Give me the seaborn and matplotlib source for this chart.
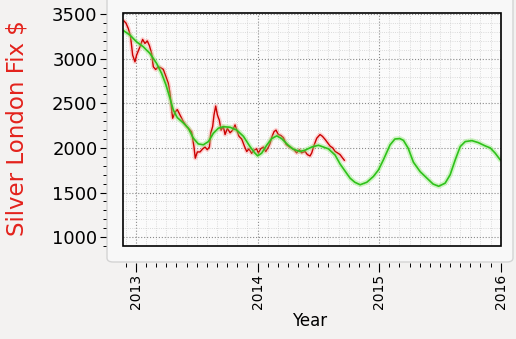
# Silver London Fix with smoothed trend / projection
import seaborn as sns
import matplotlib.pyplot as plt
import matplotlib.ticker as mticker
from matplotlib.patches import FancyBboxPatch, Rectangle
import pandas as pd

# daily fix (cents)
fix_years = [2012.901, 2012.918, 2012.937, 2012.956, 2012.973, 2012.992,
             2013.005, 2013.033, 2013.055, 2013.074, 2013.093, 2013.110, 2013.129, 2013.143, 2013.162, 2013.184,
             2013.203, 2013.225, 2013.247, 2013.266, 2013.280, 2013.294, 2013.302, 2013.321, 2013.340, 2013.362,
             2013.390, 2013.417, 2013.444, 2013.458, 2013.477, 2013.488, 2013.505, 2013.527, 2013.549, 2013.568,
             2013.587, 2013.604, 2013.615, 2013.631, 2013.642, 2013.656, 2013.670, 2013.686, 2013.700, 2013.719,
             2013.733, 2013.752, 2013.774, 2013.796, 2013.815, 2013.829, 2013.848, 2013.870, 2013.892, 2013.911,
             2013.930, 2013.952, 2013.971, 2013.993, 2014.007, 2014.026, 2014.048, 2014.067, 2014.089, 2014.103,
             2014.117, 2014.136, 2014.152, 2014.171, 2014.191, 2014.213, 2014.235, 2014.254, 2014.276, 2014.300,
             2014.322, 2014.344, 2014.363, 2014.391, 2014.410, 2014.432, 2014.446, 2014.465, 2014.487, 2014.514,
             2014.534, 2014.556, 2014.575, 2014.597, 2014.619, 2014.638, 2014.657, 2014.679, 2014.698, 2014.715]
fix_values = [3425, 3400, 3340, 3246, 3041, 2966,
              3040, 3134, 3217, 3172, 3200, 3150, 3060, 2910, 2880, 2910,
              2900, 2880, 2798, 2725, 2613, 2426, 2333, 2400, 2430, 2370,
              2295, 2240, 2202, 2180, 2015, 1885, 1955, 1955, 1990, 2010,
              1980, 2010, 2165, 2240, 2370, 2470, 2370, 2310, 2200, 2240,
              2150, 2220, 2170, 2200, 2258, 2200, 2130, 2100, 2020, 1960,
              1990, 1940, 1975, 1990, 1940, 1990, 2010, 1960, 2010, 2050,
              2120, 2183, 2200, 2150, 2140, 2115, 2040, 2020, 2000, 1980,
              1945, 1980, 1945, 1960, 1925, 1910, 1945, 2030, 2109, 2150,
              2130, 2095, 2060, 2020, 2000, 1960, 1945, 1925, 1890, 1860]

# smoothed trend and its projection to 2016
trend_years = [2012.901, 2012.951,
               2013.005, 2013.060, 2013.115, 2013.170, 2013.211, 2013.247, 2013.280, 2013.307, 2013.340, 2013.390,
               2013.431, 2013.472, 2013.513, 2013.554, 2013.596, 2013.637, 2013.678, 2013.719, 2013.774, 2013.829,
               2013.884, 2013.938, 2013.979, 2014.001, 2014.034, 2014.075, 2014.117, 2014.158, 2014.198, 2014.253,
               2014.294, 2014.349, 2014.391, 2014.446, 2014.501, 2014.542,
               2014.583, 2014.638, 2014.679, 2014.720, 2014.761, 2014.800, 2014.844, 2014.899, 2014.953, 2014.995,
               2015.035, 2015.090, 2015.130, 2015.170, 2015.200, 2015.239, 2015.282, 2015.337, 2015.393, 2015.444,
               2015.490, 2015.543, 2015.584, 2015.626, 2015.667, 2015.708, 2015.763, 2015.815, 2015.872, 2015.914,
               2015.955, 2015.996]
trend_values = [3313, 3265,
                3190, 3135, 3060, 2948, 2836, 2706, 2557, 2426, 2340, 2280,
                2221, 2109, 2045, 2035, 2071, 2165, 2221, 2238, 2232, 2200,
                2130, 2015, 1941, 1911, 1941, 2030, 2105, 2135, 2105, 2030,
                1986, 1960, 1975, 2010, 2030, 2010,
                1990, 1920, 1820, 1740, 1661, 1615, 1587, 1615, 1680, 1754,
                1866, 2034, 2100, 2105, 2085, 1997, 1840, 1735, 1661, 1595,
                1570, 1605, 1698, 1866, 2015, 2071, 2082, 2060, 2023, 2000,
                1941, 1866]

year_ticks = [2013, 2014, 2015, 2016]
price_ticks = [1000, 1500, 2000, 2500, 3000, 3500]

fix = pd.DataFrame({"year": fix_years, "price": fix_values})
trend = pd.DataFrame({"year": trend_years, "price": trend_values})

sns.set_style("white")
plt.rcParams["font.family"] = ["DejaVu Sans"]
plt.rcParams["text.color"] = "black"
plt.rcParams["xtick.color"] = "black"
plt.rcParams["ytick.color"] = "black"

W, H = 516, 339
fig = plt.figure(figsize=(W / 100, H / 100), dpi=100, facecolor="#f3f2f1")

# rounded light panel behind the plot
panel = FancyBboxPatch((107 / W, 1 - 262 / H), (513 - 107) / W, 262 / H + 0.05,
                       boxstyle="round,pad=0,rounding_size=0.012",
                       transform=fig.transFigure, fc="#f8f8f8", ec="#d4d4d4", lw=1.0,
                       zorder=-10)
fig.patches.append(panel)

ax = fig.add_axes([123.3 / W, 1 - 246 / H, (500.7 - 123.3) / W, (246 - 13.3) / H])
ax.set_facecolor("#fbfbfb")

# red daily fix with a soft glow
sns.lineplot(data=fix, x="year", y="price", ax=ax, color="#ff7070", lw=3.2, alpha=0.3,
             estimator=None, sort=False)
sns.lineplot(data=fix, x="year", y="price", ax=ax, color="#cc0000", lw=1.0,
             estimator=None, sort=False)
# green trend with a soft glow
sns.lineplot(data=trend, x="year", y="price", ax=ax, color="#8be86f", lw=3.6, alpha=0.4,
             estimator=None, sort=False)
sns.lineplot(data=trend, x="year", y="price", ax=ax, color="#2ec21a", lw=1.2,
             estimator=None, sort=False)

ax.set_xlim(2012.896, 2016.0)
ax.set_ylim(900, 3510)

ax.set_xticks(year_ticks)
ax.set_xticklabels([str(y) for y in year_ticks])
ax.set_yticks(price_ticks)
ax.set_yticklabels([str(p) for p in price_ticks])
ax.xaxis.set_minor_locator(mticker.MultipleLocator(1 / 12))
ax.yaxis.set_minor_locator(mticker.MultipleLocator(100))

ax.grid(which="major", ls=":", color="#8a8a8a", lw=0.8)
ax.grid(which="minor", ls=":", color="#cfcfcf", lw=0.6)
ax.set_axisbelow(True)

# ticks sit outside the panel; the black frame is drawn separately
for side in ["left", "bottom"]:
    ax.spines[side].set_position(("outward", 12.3))
    ax.spines[side].set_visible(False)
for side in ["top", "right"]:
    ax.spines[side].set_visible(False)
ax.add_patch(Rectangle((0, 0), 1, 1, transform=ax.transAxes, fill=False,
                       ec="black", lw=1.2, zorder=5, clip_on=False))

ax.tick_params(axis="y", which="major", left=True, direction="out", length=4.3, width=0.8,
               pad=2, labelsize=13, color="black", labelcolor="black")
ax.tick_params(axis="y", which="minor", left=True, direction="out", length=2.2, width=0.7)
ax.tick_params(axis="x", which="major", bottom=True, direction="out", length=6.3, width=0.8,
               pad=1.5, labelsize=10, labelrotation=90, color="black", labelcolor="black")
ax.tick_params(axis="x", which="minor", bottom=True, direction="out", length=3.0, width=0.7)

ax.set_xlabel("")
ax.set_ylabel("")
fig.text(17 / W, 1 - 128.5 / H, "Silver London Fix $", rotation=90, color="#e3221c",
         fontsize=16.5, ha="center", va="center")
fig.text(310 / W, 1 - 320.5 / H, "Year", ha="center", va="center", fontsize=12)

fig.savefig("out.png", dpi=100, facecolor=fig.get_facecolor())
